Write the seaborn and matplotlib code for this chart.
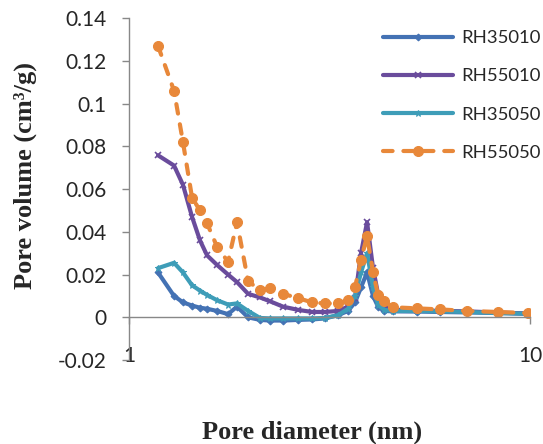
import numpy as np
import pandas as pd
import matplotlib
matplotlib.use("Agg")
import matplotlib.pyplot as plt
import seaborn as sns
from matplotlib.ticker import FixedLocator, FixedFormatter, NullLocator

# Pore diameter (nm), shared by all four samples
diameter = [1.181, 1.295, 1.363, 1.436, 1.503, 1.565, 1.658, 1.766, 1.859, 1.981,
            2.122, 2.247, 2.421, 2.639, 2.860, 3.082, 3.320, 3.517, 3.661, 3.789,
            3.923, 4.060, 4.178, 4.324, 4.554, 5.227, 5.966, 6.966, 8.322, 9.886]

rh35010 = [0.021, 0.010, 0.007, 0.0055, 0.0045, 0.004, 0.003, 0.0015, 0.005, 0.000,
           -0.0012, -0.0015, -0.0015, -0.0012, -0.001, -0.0005, 0.001, 0.003, 0.007, 0.014,
           0.021, 0.010, 0.005, 0.003, 0.0028, 0.0027, 0.0025, 0.0023, 0.002, 0.0017]
rh55010 = [0.0758, 0.071, 0.062, 0.047, 0.036, 0.029, 0.0245, 0.020, 0.0165, 0.011,
           0.0093, 0.0075, 0.005, 0.0035, 0.0025, 0.0025, 0.003, 0.005, 0.009, 0.030,
           0.0445, 0.023, 0.011, 0.005, 0.0035, 0.0033, 0.003, 0.0028, 0.0022, 0.0018]
rh35050 = [0.023, 0.0255, 0.021, 0.015, 0.0125, 0.0105, 0.008, 0.006, 0.0065, 0.003,
           -0.0003, -0.0005, -0.0005, -0.0005, -0.0005, -0.0003, 0.001, 0.004, 0.010, 0.021,
           0.030, 0.014, 0.006, 0.0035, 0.003, 0.003, 0.0028, 0.0025, 0.002, 0.0017]
rh55050 = [0.127, 0.106, 0.082, 0.056, 0.050, 0.044, 0.033, 0.026, 0.0445, 0.017,
           0.0126, 0.0136, 0.011, 0.009, 0.007, 0.0065, 0.0065, 0.008, 0.014, 0.027,
           0.038, 0.021, 0.0105, 0.0075, 0.0047, 0.0042, 0.0037, 0.003, 0.0025, 0.002]

samples = ["RH35010", "RH55010", "RH35050", "RH55050"]
values = [rh35010, rh55010, rh35050, rh55050]

yticks = [-0.02, 0, 0.02, 0.04, 0.06, 0.08, 0.1, 0.12, 0.14]
ytick_labels = ["-0.02", "0", "0.02", "0.04", "0.06", "0.08", "0.1", "0.12", "0.14"]

colors = ["#4472B4", "#6A4C9C", "#3E9DB8", "#E8883A"]
styles = [
    dict(marker="D", markersize=3.5),
    dict(marker="x", markersize=4, markeredgewidth=1.2),
    dict(marker="*", markersize=5),
    dict(marker="o", markersize=7.2, linestyle=(0, (2.3, 2.6)), dash_capstyle="round"),
]

sns.set_style("white")
plt.rcParams["font.family"] = ["Lato", "DejaVu Sans"]

fig = plt.figure(figsize=(5.43, 4.44), dpi=100)
ax = fig.add_axes([0.2376, 0.189, 0.7385, 0.7703])

for name, vals, col, st in zip(samples, values, colors, styles):
    df = pd.DataFrame({"d": diameter, "v": vals})
    sns.lineplot(data=df, x="d", y="v", ax=ax, color=col, linewidth=3.0,
                 markeredgecolor=col, label=name, **st)

ax.set_xscale("log")
ax.set_xlim(1, 10)
ax.set_ylim(-0.02, 0.14)
ax.xaxis.set_major_locator(FixedLocator([1, 10]))
ax.xaxis.set_major_formatter(FixedFormatter(["1", "10"]))
ax.xaxis.set_minor_locator(NullLocator())
ax.yaxis.set_major_locator(FixedLocator(yticks))
ax.yaxis.set_major_formatter(FixedFormatter(ytick_labels))

for s in ["top", "right"]:
    ax.spines[s].set_visible(False)
ax.spines["bottom"].set_position(("data", 0))
for s in ["left", "bottom"]:
    ax.spines[s].set_color("#888888")
    ax.spines[s].set_linewidth(1.0)

ax.tick_params(axis="y", direction="out", length=5, width=1, color="#888888",
               pad=11, labelsize=15, left=True)
ax.tick_params(axis="x", direction="out", length=5, width=1, color="#888888",
               pad=16, labelsize=15, bottom=True)

ax.set_xlabel("Pore diameter (nm)", family="Liberation Serif", fontweight="bold",
              fontsize=19)
ax.set_ylabel("Pore volume (cm³/g)", family="Liberation Serif", fontweight="bold",
              fontsize=19)
ax.xaxis.label.set_va("center")
ax.yaxis.label.set_va("center")
ax.xaxis.set_label_coords(0.456, -0.21)
ax.yaxis.set_label_coords(-0.258, 0.54)

ax.legend(loc="upper left", bbox_to_anchor=(374 / 543, 1 - 21 / 444),
          bbox_transform=fig.transFigure, frameon=False, fontsize=13.3,
          handlelength=3.8, handletextpad=0.4, labelspacing=1.2, borderpad=0)

fig.savefig("out.png", dpi=100)
